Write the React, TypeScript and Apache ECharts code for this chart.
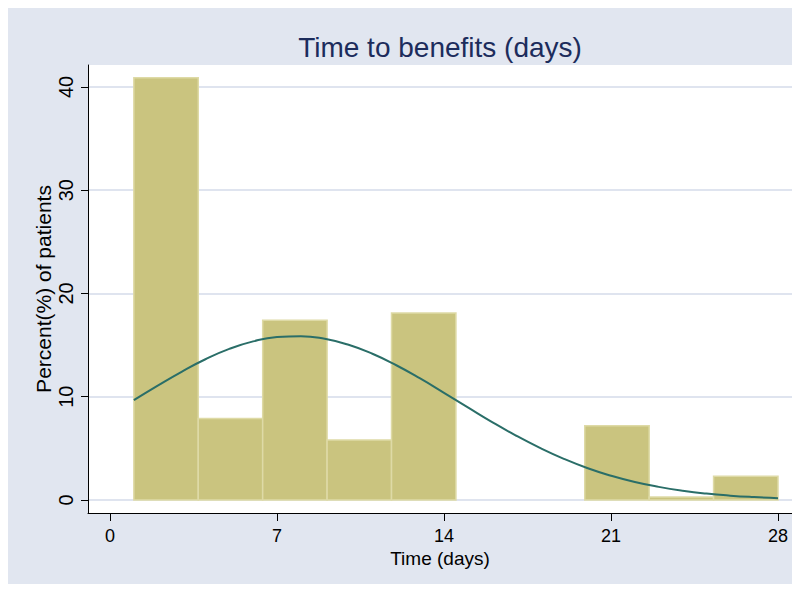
import React, { useEffect, useRef } from "react";
import * as echarts from "echarts";

// Histogram bins (days): start, end
const binStarts = [1, 3.7, 6.4, 9.1, 11.8, 14.5, 17.2, 19.9, 22.6, 25.3];
const binEnds = [3.7, 6.4, 9.1, 11.8, 14.5, 17.2, 19.9, 22.6, 25.3, 28];
// Percent of patients per bin
const binPercents = [40.9, 7.9, 17.4, 5.8, 18.1, 0, 0, 7.2, 0.3, 2.3];

// Normal density overlay, scaled to percent
const curveDays = [1, 2, 3, 4, 5, 6, 7, 8, 9, 10, 11, 12, 13, 14, 15, 16, 17, 18, 19, 20, 21, 22, 23, 24, 25, 26, 27, 28];
const curveValues = [9.67, 11.08, 12.42, 13.63, 14.63, 15.36, 15.78, 15.87, 15.61, 15.03, 14.16, 13.05, 11.77, 10.38, 8.97, 7.57, 6.26, 5.07, 4.01, 3.1, 2.35, 1.74, 1.27, 0.9, 0.62, 0.42, 0.28, 0.18];

const xTicks = [0, 7, 14, 21, 28];
const yTicks = [0, 10, 20, 30, 40];

const FONT = "'Liberation Sans', Arial, Helvetica, sans-serif";

export default function App() {
  const ref = useRef<HTMLDivElement>(null);

  useEffect(() => {
    if (!ref.current) return;
    const chart = echarts.init(ref.current, undefined, { renderer: "svg" });

    const histData = binStarts.map((s, i) => [s, binEnds[i], binPercents[i]]);
    const curveData = curveDays.map((d, i) => [d, curveValues[i]]);

    chart.setOption({
      animation: false,
      backgroundColor: "#E1E6F0",
      textStyle: { fontFamily: FONT },
      title: {
        text: "Time to benefits (days)",
        left: 427,
        textAlign: "center",
        top: 20,
        textStyle: { fontFamily: FONT, fontSize: 28, fontWeight: "normal", color: "#1C2C5C" },
      },
      grid: {
        left: 80,
        top: 57,
        width: 704,
        height: 448,
        show: true,
        backgroundColor: "#FFFFFF",
        borderWidth: 0,
      },
      xAxis: {
        type: "value",
        min: -0.922,
        max: 28.587,
        name: "Time (days)",
        nameLocation: "middle",
        nameGap: 36,
        nameMoveOverlap: false,
        nameTextStyle: { fontFamily: FONT, fontSize: 19, color: "#000" },
        axisLine: { show: true, onZero: false, lineStyle: { color: "#000", width: 1 } },
        axisTick: { show: true, length: 8, customValues: xTicks, lineStyle: { color: "#000" } },
        axisLabel: { customValues: xTicks, margin: 14, fontSize: 18, color: "#000", fontFamily: FONT },
        splitLine: { show: false },
      },
      yAxis: {
        type: "value",
        min: -1.26,
        max: 42.13,
        name: "Percent(%) of patients",
        nameLocation: "middle",
        nameRotate: 90,
        nameGap: 34,
        nameMoveOverlap: false,
        nameTextStyle: { fontFamily: FONT, fontSize: 21, color: "#000" },
        axisLine: { show: true, onZero: false, lineStyle: { color: "#000", width: 1 } },
        axisTick: { show: true, length: 7, customValues: yTicks, lineStyle: { color: "#000" } },
        axisLabel: { customValues: yTicks, rotate: 90, margin: 12, fontSize: 20, color: "#000", fontFamily: FONT },
        splitLine: { show: true, customValues: yTicks, lineStyle: { color: "#DFE4EF", width: 2 } },
      },
      series: [
        {
          type: "custom",
          data: histData,
          encode: { x: [0, 1], y: 2 },
          renderItem: (params: any, api: any) => {
            const v = api.value(2);
            if (!v) return null;
            const p0 = api.coord([api.value(0), 0]);
            const p1 = api.coord([api.value(1), v]);
            return {
              type: "rect",
              shape: { x: p0[0], y: p1[1], width: p1[0] - p0[0], height: p0[1] - p1[1] },
              style: { fill: "#CAC47F", stroke: "#DEDAA6", lineWidth: 1.5 },
            };
          },
          z: 2,
        },
        {
          type: "line",
          data: curveData,
          smooth: true,
          symbol: "none",
          lineStyle: { color: "#2A6E68", width: 2 },
          z: 3,
        },
      ],
    });

    return () => chart.dispose();
  }, []);

  return <div ref={ref} style={{ width: 792, height: 576 }} />;
}
